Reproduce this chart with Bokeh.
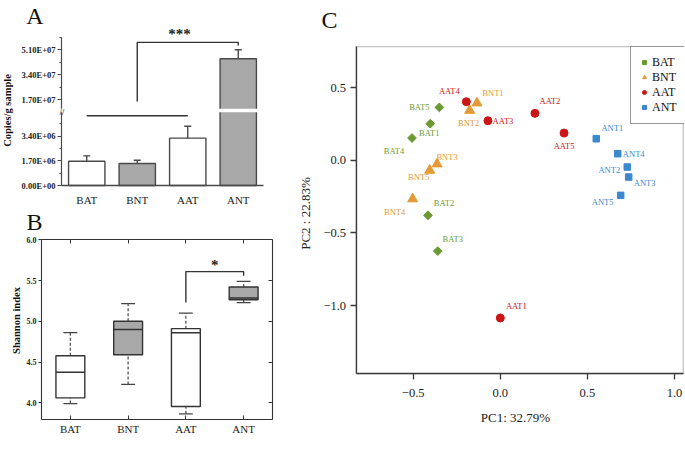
import math
from bokeh.plotting import figure
from bokeh.models import (ColumnDataSource, Range1d, FixedTicker, Label, Legend, LegendItem,
                          LinearAxis, BoxAnnotation)
from bokeh.transform import dodge
from bokeh.layouts import row, column
from bokeh.embed import file_html
from bokeh.resources import INLINE
from bokeh.core.properties import value

SERIF = "Liberation Serif"

# ---------------- data ----------------
groups = ["BAT", "BNT", "AAT", "ANT"]

# Panel A: copies per g sample (mean, upper error)
copies_mean = [1.67e6, 1.51e6, 3.26e6, 4.49e7]
copies_err = [0.37e6, 0.23e6, 0.82e6, 0.61e7]
a_low_ticks = [0.0, 1.7e6, 3.4e6]
a_low_labels = ["0.00E+00", "1.70E+06", "3.40E+06"]
a_up_ticks = [1.7e7, 3.4e7, 5.1e7]
a_up_labels = ["1.70E+07", "3.40E+07", "5.10E+07"]
a_low_max = 5.1e6      # top of lower axis segment
a_up_min = 1.0e7       # bottom of upper axis segment
a_up_max = 5.93e7      # top of upper axis segment
a_sig_low = 4.8e6
a_sig_stem = 1.57e7
a_sig_top = 5.61e7
a_sig_drop = 5.39e7

# Panel B: Shannon index box plots
sh_low = [3.99, 4.225, 3.865, 5.23]
sh_q1 = [4.06, 4.59, 3.955, 5.265]
sh_med = [4.375, 4.90, 4.86, 5.285]
sh_q3 = [4.577, 5.0, 4.91, 5.42]
sh_high = [4.86, 5.218, 5.10, 5.49]
b_ticks = [4.0, 4.5, 5.0, 5.5, 6.0]
b_labels = ["4.0", "4.5", "5.0", "5.5", "6.0"]
b_y_min, b_y_max = 3.795, 6.0
b_sig_left = 5.23
b_sig_top = 5.61
b_sig_right = 5.56

# Panel C: PCA
pc_names = ["BAT1", "BAT2", "BAT3", "BAT4", "BAT5",
            "BNT1", "BNT2", "BNT3", "BNT4", "BNT5",
            "AAT1", "AAT2", "AAT3", "AAT4", "AAT5",
            "ANT1", "ANT2", "ANT3", "ANT4", "ANT5"]
pc1 = [-0.402, -0.415, -0.359, -0.507, -0.350,
       -0.134, -0.176, -0.363, -0.503, -0.405,
       0.000, 0.199, -0.071, -0.195, 0.366,
       0.551, 0.729, 0.737, 0.674, 0.691]
pc2 = [0.253, -0.379, -0.625, 0.154, 0.365,
       0.395, 0.344, -0.025, -0.266, -0.069,
       -1.086, 0.324, 0.273, 0.404, 0.188,
       0.149, -0.046, -0.115, 0.046, -0.241]
c_x_ticks = [-0.5, 0.0, 0.5, 1.0]
c_x_labels = ["\u22120.5", "0.0", "0.5", "1.0"]
c_y_ticks = [-1.0, -0.5, 0.0, 0.5]
c_y_labels = ["\u22121.0", "\u22120.5", "0.0", "0.5"]
c_x_min, c_x_max = -0.828, 1.05
c_y_min, c_y_max = -1.47, 0.784

# label placement (screen px offsets of each sample name from its point)
lab_dx = [-1, 16, 15, -18, -20,
          16, -1, 10, -18, -11,
          16, 15, 15, -17, 0,
          16, -18, 16, 16, -18]
lab_dy = [9, -12, -12, 13, 0,
          -10, 13, -7, 13, 7,
          -12, -12, 0, -11, 13,
          -11, 3, 6, 0, 7]

# ---------------- styles / helpers ----------------
bar_fill = ["white", "#a8a8a8", "white", "#a8a8a8"]
edge = "#4a4a4a"
group_color = {"BAT": "#6b9a33", "BNT": "#e39a36", "AAT": "#cc1515", "ANT": "#3b88cf"}
group_marker = {"BAT": ("square", 6.2, math.pi / 4), "BNT": ("triangle", 10, 0.0),
                "AAT": ("circle", 8, 0.0), "ANT": ("square", 6.5, 0.0)}
cat_x = [i + 0.5 for i in range(len(groups))]


def lin_range(va, pa, vb, pb, size):
    k = (vb - va) / (pb - pa)
    s = va - pa * k
    return Range1d(start=s, end=s + size * k)


def xpos(r, W, px):
    return r.start + (r.end - r.start) * px / W


def ypos(r, H, py):
    return r.start + (r.end - r.start) * (H - py) / H


def make_fig(W, H, xr, yr, **kw):
    p = figure(width=W, height=H, x_range=xr, y_range=yr, x_axis_location=None,
               y_axis_location=None, min_border=0, min_border_left=0, min_border_right=0,
               min_border_top=0, min_border_bottom=0, output_backend="svg",
               toolbar_location=None, **kw)
    p.outline_line_color = None
    p.xgrid.grid_line_color = None
    p.ygrid.grid_line_color = None
    return p


def txt(p, x, y, s, size, bold=False, angle=0.0, color="#111111", y_range_name="default"):
    p.add_layout(Label(x=x, y=y, text=s, text_font=SERIF, text_font_size=size,
                       text_font_style="bold" if bold else "normal", angle=angle,
                       text_align="center", text_baseline="middle", text_color=color,
                       y_range_name=y_range_name))


def style_axis(ax, size, bold, color="#222222", line_color=edge, lw=1.2):
    ax.major_label_text_font = SERIF
    ax.major_label_text_font_size = size
    ax.major_label_text_font_style = "bold" if bold else "normal"
    ax.major_label_text_color = color
    ax.axis_line_color = line_color
    ax.axis_line_width = lw
    ax.major_tick_line_color = line_color
    ax.minor_tick_line_color = line_color


# ---------------- Panel A ----------------
WA, HA = 295, 210
xr_a = lin_range(0, 61, 4, 263, WA)
yr_a_low = lin_range(0, HA - 185, 3.4e6, HA - 135.6, HA)
yr_a_up = lin_range(1.7e7, HA - 99, 5.1e7, HA - 49.3, HA)
pa = make_fig(WA, HA, xr_a, yr_a_low, extra_y_ranges={"up": yr_a_up})

hi_a = [m + e for m, e in zip(copies_mean, copies_err)]
low_src = ColumnDataSource(dict(x=cat_x, top=[min(m, a_low_max) for m in copies_mean], fill=bar_fill))
pa.vbar(x="x", top="top", bottom=0, width=0.72, fill_color="fill", line_color=edge,
        line_width=1.4, source=low_src)
up_idx = [i for i, m in enumerate(copies_mean) if m > a_up_min]
up_src = ColumnDataSource(dict(x=[cat_x[i] for i in up_idx], top=[copies_mean[i] for i in up_idx],
                               fill=[bar_fill[i] for i in up_idx]))
pa.vbar(x="x", top="top", bottom=a_up_min, width=0.72, fill_color="fill", line_color=edge,
        line_width=1.4, source=up_src, y_range_name="up")
for sel, rn in (([i for i, m in enumerate(copies_mean) if m <= a_low_max], "default"), (up_idx, "up")):
    es = ColumnDataSource(dict(x=[cat_x[i] for i in sel], m=[copies_mean[i] for i in sel],
                               hi=[hi_a[i] for i in sel]))
    pa.segment(x0="x", y0="m", x1="x", y1="hi", line_color=edge, line_width=1.4, source=es,
               y_range_name=rn)
    pa.segment(x0=dodge("x", -0.07), y0="hi", x1=dodge("x", 0.07), y1="hi", line_color=edge,
               line_width=1.4, source=es, y_range_name=rn)

# significance bracket
pa.segment(x0=[cat_x[0]], y0=[a_sig_low], x1=[cat_x[2]], y1=[a_sig_low], line_color="#333333",
           line_width=1.4)
pa.line(x=[cat_x[1], cat_x[1], cat_x[3], cat_x[3]], y=[a_sig_stem, a_sig_top, a_sig_top, a_sig_drop],
        line_color="#333333", line_width=1.4, y_range_name="up")

# axes
ax_low = LinearAxis(fixed_location=0, bounds=(0, a_low_max),
                    ticker=FixedTicker(ticks=a_low_ticks,
                                       minor_ticks=[t + 0.85e6 for t in a_low_ticks]),
                    major_label_overrides={t: l for t, l in zip(a_low_ticks, a_low_labels)},
                    major_tick_out=4, major_tick_in=0, minor_tick_out=2, minor_tick_in=0,
                    major_label_standoff=2)
style_axis(ax_low, "8.5px", True)
pa.add_layout(ax_low, "left")
ax_up = LinearAxis(y_range_name="up", fixed_location=0, bounds=(a_up_min, a_up_max),
                   ticker=FixedTicker(ticks=a_up_ticks,
                                      minor_ticks=[t - 0.85e7 for t in a_up_ticks] + [5.95e7]),
                   major_label_overrides={t: l for t, l in zip(a_up_ticks, a_up_labels)},
                   major_tick_out=4, major_tick_in=0, minor_tick_out=2, minor_tick_in=0,
                   major_label_standoff=2)
style_axis(ax_up, "8.5px", True)
pa.add_layout(ax_up, "left")
ax_ab = LinearAxis(fixed_location=0, bounds=(0, len(groups)), ticker=FixedTicker(ticks=cat_x),
                   major_label_overrides={x: g for x, g in zip(cat_x, groups)},
                   major_tick_out=0, major_tick_in=0, major_label_standoff=8)
style_axis(ax_ab, "11px", False, lw=1.4)
ax_ab.minor_tick_line_color = None
pa.add_layout(ax_ab, "below")

# axis break gap
pa.add_layout(BoxAnnotation(left=xpos(xr_a, WA, 55), right=len(groups) + 0.1,
                            bottom=ypos(yr_a_low, HA, 111.8), top=ypos(yr_a_low, HA, 108.3),
                            fill_color="white", fill_alpha=1, line_color=None,
                            level="annotation"))
txt(pa, xpos(xr_a, WA, 61.5), ypos(yr_a_low, HA, 111.5), "//", "8px", bold=True, color="#333333")
txt(pa, xpos(xr_a, WA, 179), ypos(yr_a_low, HA, 33), "***", "15px", bold=True, color="#222222")
txt(pa, xpos(xr_a, WA, 34.5), ypos(yr_a_low, HA, 15), "A", "24px")
txt(pa, xpos(xr_a, WA, 7), ypos(yr_a_low, HA, 110), "Copies/g sample", "10.5px", bold=True,
    angle=math.pi / 2)

# ---------------- Panel B ----------------
WB, HB = 295, 249
xr_b = lin_range(0, 41, 4, 272, WB)
yr_b = lin_range(4.0, 459 - 402.3, 6.0, 459 - 239.3, HB)
pb = make_fig(WB, HB, xr_b, yr_b)
src_b = ColumnDataSource(dict(x=cat_x, lo=sh_low, q1=sh_q1, med=sh_med, q3=sh_q3, hi=sh_high,
                              fill=bar_fill))
pb.segment(x0="x", y0="q3", x1="x", y1="hi", line_color="#555555", line_width=1.3,
           line_dash="3 2", source=src_b)
pb.segment(x0="x", y0="lo", x1="x", y1="q1", line_color="#555555", line_width=1.3,
           line_dash="3 2", source=src_b)
for yk in ("lo", "hi"):
    pb.segment(x0=dodge("x", -0.12), y0=yk, x1=dodge("x", 0.12), y1=yk,
               line_color="#444444", line_width=1.3, source=src_b)
pb.vbar(x="x", bottom="q1", top="q3", width=0.5, fill_color="fill", line_color="#333333",
        line_width=1.4, source=src_b)
pb.segment(x0=dodge("x", -0.25), y0="med", x1=dodge("x", 0.25), y1="med",
           line_color="#333333", line_width=1.5, source=src_b)
pb.line(x=[cat_x[2], cat_x[2], cat_x[3], cat_x[3]], y=[b_sig_left, b_sig_top, b_sig_top, b_sig_right],
        line_color="#333333", line_width=1.4)

bl = LinearAxis(fixed_location=0, bounds=(b_y_min, b_y_max), ticker=FixedTicker(ticks=b_ticks),
                major_label_overrides={t: l for t, l in zip(b_ticks, b_labels)},
                major_tick_out=3, major_tick_in=0, major_label_standoff=2)
style_axis(bl, "8px", True, line_color="#333333", lw=1.1)
bl.minor_tick_line_color = None
pb.add_layout(bl, "left")
bb = LinearAxis(fixed_location=b_y_min, bounds=(0, len(groups)), ticker=FixedTicker(ticks=cat_x),
                major_label_overrides={x: g for x, g in zip(cat_x, groups)},
                major_tick_out=0, major_tick_in=4, major_label_standoff=3)
style_axis(bb, "11px", False, line_color="#333333", lw=1.1)
bb.minor_tick_line_color = None
pb.add_layout(bb, "below")
br = LinearAxis(fixed_location=len(groups), bounds=(b_y_min, b_y_max), ticker=FixedTicker(ticks=b_ticks),
                major_tick_out=0, major_tick_in=4)
style_axis(br, "8px", False, line_color="#333333", lw=1.1)
br.major_label_text_color = None
br.minor_tick_line_color = None
pb.add_layout(br, "right")
bt = LinearAxis(fixed_location=b_y_max, bounds=(0, len(groups)), ticker=FixedTicker(ticks=cat_x),
                major_tick_out=0, major_tick_in=4)
style_axis(bt, "8px", False, line_color="#333333", lw=1.1)
bt.major_label_text_color = None
bt.minor_tick_line_color = None
pb.add_layout(bt, "above")

txt(pb, 3.0, ypos(yr_b, HB, 264 - 210), "*", "15px", bold=True, color="#222222")
txt(pb, xpos(xr_b, WB, 34), ypos(yr_b, HB, 221.5 - 210), "B", "24px")
txt(pb, xpos(xr_b, WB, 16), ypos(yr_b, HB, 320 - 210), "Shannon index", "10.5px", bold=True,
    angle=math.pi / 2)

# ---------------- Panel C ----------------
WC, HC = 389, 459
X0C = 295
xr_c = lin_range(-0.5, 412.7 - X0C, 1.0, 674 - X0C, WC)
yr_c = lin_range(-1.0, HC - 305, 0.5, HC - 87.3, HC)
pc = make_fig(WC, HC, xr_c, yr_c)

items = []
for g in groups:
    idx = [i for i, n in enumerate(pc_names) if n.startswith(g)]
    src = ColumnDataSource(dict(x=[pc1[i] for i in idx], y=[pc2[i] for i in idx],
                                name=[pc_names[i] for i in idx],
                                dx=[lab_dx[i] for i in idx], dy=[lab_dy[i] for i in idx]))
    mk, sz, ang = group_marker[g]
    r = pc.scatter(x="x", y="y", marker=mk, size=sz, angle=ang, fill_color=group_color[g],
                   line_color=group_color[g], line_width=1, source=src)
    pc.text(x="x", y="y", text="name", x_offset="dx", y_offset="dy", text_font=value(SERIF),
            text_font_size="8.5px", text_color=group_color[g], text_align="center",
            text_baseline="middle", source=src)
    items.append(LegendItem(label=g, renderers=[r]))

for ax, ticks, labels, place, loc, bnd in (
        (LinearAxis(), c_x_ticks, c_x_labels, "below", c_y_min, (c_x_min, c_x_max)),
        (LinearAxis(), c_y_ticks, c_y_labels, "left", c_x_min, (c_y_min, c_y_max))):
    ax.fixed_location = loc
    ax.bounds = bnd
    ax.ticker = FixedTicker(ticks=ticks)
    ax.major_label_overrides = {t: l for t, l in zip(ticks, labels)}
    ax.major_tick_out = 6
    ax.major_tick_in = 0
    style_axis(ax, "12.5px", False, line_color="#3a3a3a", lw=1.3)
    ax.major_tick_line_width = 1.3
    ax.minor_tick_line_color = None
    ax.major_label_standoff = 9 if place == "below" else 4
    pc.add_layout(ax, place)

pc.add_layout(BoxAnnotation(left=c_x_min, right=c_x_max, bottom=c_y_min, top=c_y_max,
                            fill_color=None, line_color="#3a3a3a", line_width=1.3))

leg = Legend(items=items, location=(630 - X0C, HC - 123.5), margin=0, padding=8, spacing=0,
             glyph_width=10, glyph_height=14, label_height=14, label_standoff=3,
             label_text_font=SERIF, label_text_font_size="12px", label_text_color="#111111",
             border_line_color="#333333", border_line_width=1.3, background_fill_alpha=1)
pc.add_layout(leg)

txt(pc, xpos(xr_c, WC, 329 - X0C), ypos(yr_c, HC, 19), "C", "24px")
txt(pc, xpos(xr_c, WC, 515 - X0C), ypos(yr_c, HC, 416.7), "PC1: 32.79%", "13px", color="#222222")
txt(pc, xpos(xr_c, WC, 305 - X0C), ypos(yr_c, HC, 213), "PC2 : 22.83%", "13px", color="#222222",
    angle=math.pi / 2)

layout = row(column(pa, pb, spacing=0), pc, spacing=0)
open("out.html", "w").write(file_html(layout, INLINE))
